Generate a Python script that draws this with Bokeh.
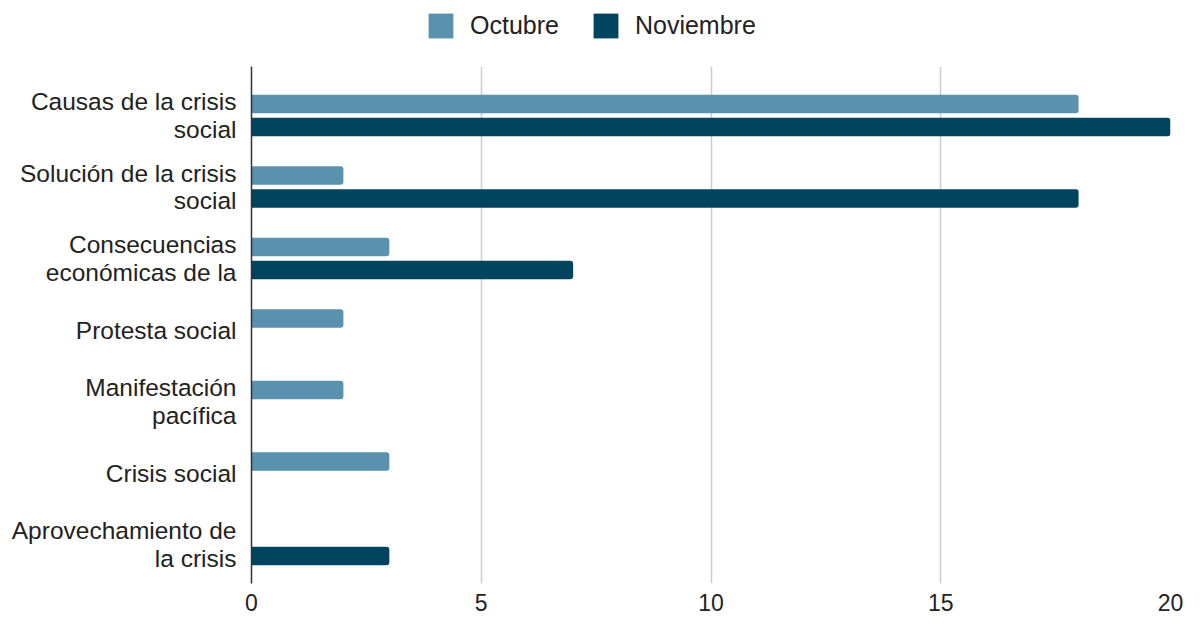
from bokeh.plotting import figure
from bokeh.layouts import column
from bokeh.models import ColumnDataSource, Range1d, FixedTicker, Legend, LegendItem
from bokeh.transform import dodge
from bokeh.embed import file_html
from bokeh.resources import INLINE

categories = [
    "Causas de la crisis\nsocial",
    "Solución de la crisis\nsocial",
    "Consecuencias\neconómicas de la",
    "Protesta social",
    "Manifestación\npacífica",
    "Crisis social",
    "Aprovechamiento de\nla crisis",
]
octubre = [18, 2, 3, 2, 2, 3, 0]
noviembre = [20, 18, 7, 0, 0, 0, 3]
series = ["Octubre", "Noviembre"]
x_ticks = [0, 5, 10, 15, 20]

C_OCT = "#5991af"
C_NOV = "#01445f"
FONT = "Liberation Sans"
TXT = "#222222"

W = 1188
H_LEG = 58
H_MAIN = 615 - H_LEG

idx = list(range(len(categories)))
src = ColumnDataSource(dict(y=idx, octubre=octubre, noviembre=noviembre))

p = figure(width=W, height=H_MAIN, output_backend="svg", toolbar_location=None,
           x_range=Range1d(0, 20), y_range=Range1d(6.545, -0.685),
           min_border_left=251, min_border_right=18, min_border_top=8, min_border_bottom=32)
p.outline_line_color = None
p.background_fill_color = "white"

p.hbar(y=dodge("y", -0.161, range=p.y_range), left=0, right="octubre", height=0.259,
       source=src, fill_color=C_OCT, line_color=None, border_radius=(0, 3, 3, 0))
p.hbar(y=dodge("y", 0.161, range=p.y_range), left=0, right="noviembre", height=0.259,
       source=src, fill_color=C_NOV, line_color=None, border_radius=(0, 3, 3, 0))

# axes
p.xaxis.ticker = FixedTicker(ticks=x_ticks)
p.xaxis.axis_line_color = None
p.xaxis.major_tick_line_color = None
p.xaxis.minor_tick_line_color = None
p.xaxis.major_label_text_font = FONT
p.xaxis.major_label_text_font_size = "23px"
p.xaxis.major_label_text_color = TXT
p.xaxis.major_label_standoff = 4

p.yaxis.ticker = FixedTicker(ticks=idx)
p.yaxis.major_label_overrides = {i: c for i, c in enumerate(categories)}
p.yaxis.axis_line_color = "#333333"
p.yaxis.axis_line_width = 1.5
p.yaxis.major_tick_line_color = None
p.yaxis.minor_tick_line_color = None
p.yaxis.major_label_text_font = FONT
p.yaxis.major_label_text_font_size = "24.5px"
p.yaxis.major_label_text_color = TXT
p.yaxis.major_label_text_line_height = 1.02
p.yaxis.major_label_standoff = 9

p.xgrid.ticker = FixedTicker(ticks=x_ticks)
p.xgrid.grid_line_color = "#cccccc"
p.xgrid.grid_line_width = 1.5
p.ygrid.grid_line_color = None

# legend strip on top (swatch renderers sit outside the visible range)
pl = figure(width=W, height=H_LEG, output_backend="svg", toolbar_location=None,
            x_range=Range1d(0, 1), y_range=Range1d(0, 1),
            x_axis_location=None, y_axis_location=None,
            min_border=0)
pl.outline_line_color = None
pl.grid.grid_line_color = None
lg1 = pl.hbar(y=[-5], right=[1], height=1, fill_color=C_OCT, line_color=None, border_radius=2)
lg2 = pl.hbar(y=[-5], right=[1], height=1, fill_color=C_NOV, line_color=None, border_radius=2)
legend = Legend(items=[LegendItem(label=series[0], renderers=[lg1]),
                       LegendItem(label=series[1], renderers=[lg2])],
                orientation="horizontal", location=(174, 17),
                glyph_width=31, glyph_height=31, label_standoff=14, spacing=31,
                padding=0, margin=0, border_line_color=None, background_fill_alpha=0,
                label_text_font=FONT, label_text_font_size="25px", label_text_color=TXT,
                label_height=31)
pl.add_layout(legend, "center")

layout = column(pl, p, spacing=0)
open("out.html", "w").write(file_html(layout, INLINE))
